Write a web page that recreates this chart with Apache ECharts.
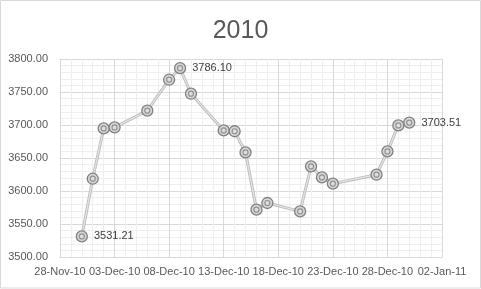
<!DOCTYPE html>
<html>
<head>
<meta charset="utf-8">
<script src="https://cdn.jsdelivr.net/npm/echarts@6/dist/echarts.min.js"></script>
<style>
html,body{margin:0;padding:0;background:#fff;}
#c{width:481px;height:289px;}
</style>
</head>
<body>
<div id="c"></div>
<script>
var title = '2010';
var dates = ['2010-11-30','2010-12-01','2010-12-02','2010-12-03','2010-12-06','2010-12-08','2010-12-09','2010-12-10','2010-12-13','2010-12-14','2010-12-15','2010-12-16','2010-12-17','2010-12-20','2010-12-21','2010-12-22','2010-12-23','2010-12-27','2010-12-28','2010-12-29','2010-12-30'];
var values = [3531.21, 3618.6, 3694.8, 3696.4, 3721.7, 3768.6, 3786.10, 3747.4, 3691.8, 3690.5, 3658.5, 3571.7, 3581.8, 3569.1, 3637.3, 3620.6, 3611.1, 3624.7, 3660.0, 3699.4, 3703.51];
var labelledIdx = [0, 6, 20];
var xMinDate = '2010-11-28';
var xMaxDate = '2011-01-02';
var xStepDays = 5;
var yMin = 3500, yMax = 3800, yStep = 50;

var MONTHS = ['Jan','Feb','Mar','Apr','May','Jun','Jul','Aug','Sep','Oct','Nov','Dec'];
function serial(s){
  var p = s.split('-');
  return Math.round((Date.UTC(+p[0], +p[1]-1, +p[2]) - Date.UTC(1899,11,30)) / 86400000);
}
function fmtSerial(v){
  var d = new Date(Date.UTC(1899,11,30) + v*86400000);
  var dd = ('0'+d.getUTCDate()).slice(-2);
  var yy = ('0'+(d.getUTCFullYear()%100)).slice(-2);
  return dd + '-' + MONTHS[d.getUTCMonth()] + '-' + yy;
}
var pts = dates.map(function(s,i){
  var o = {value:[serial(s), values[i]]};
  if (labelledIdx.indexOf(i) >= 0) {
    o.label = {show:true};
  }
  return o;
});
var plain = dates.map(function(s,i){ return [serial(s), values[i]]; });

var chart = echarts.init(document.getElementById('c'), null, {renderer:'canvas'});
chart.setOption({
  animation:false,
  backgroundColor:'#ffffff',
  title:{text:title, left:'center', top:14,
    textStyle:{fontFamily:'Liberation Sans', fontSize:25, fontWeight:'normal', color:'#595959'}},
  graphic:[{type:'rect', shape:{x:0.5,y:0.5,width:480,height:287.5}, style:{fill:'none', stroke:'#d9d9d9', lineWidth:1}, silent:true, z:-1}],
  grid:{left:60, right:39, top:59, bottom:32},
  xAxis:{type:'value', min:serial(xMinDate), max:serial(xMaxDate), interval:xStepDays,
    axisLine:{show:true, lineStyle:{color:'#d9d9d9'}},
    axisTick:{show:false},
    axisLabel:{formatter:fmtSerial, color:'#595959', fontFamily:'Liberation Sans', fontSize:11, margin:9, showMaxLabel:true, showMinLabel:true},
    splitLine:{show:true, lineStyle:{color:'#d9d9d9', width:1}},
    minorTick:{show:false, splitNumber:5},
    minorSplitLine:{show:true, lineStyle:{color:'#efefef', width:1}}
  },
  yAxis:{type:'value', min:yMin, max:yMax, interval:yStep,
    axisLine:{show:true, lineStyle:{color:'#d9d9d9'}},
    axisTick:{show:false},
    axisLabel:{formatter:function(v){return v.toFixed(2);}, color:'#595959', fontFamily:'Liberation Sans', fontSize:11, margin:12},
    splitLine:{show:true, lineStyle:{color:'#d9d9d9', width:1}},
    minorTick:{show:false, splitNumber:5},
    minorSplitLine:{show:true, lineStyle:{color:'#efefef', width:1}}
  },
  series:[
    {type:'line', data:plain, symbol:'none', silent:true,
      lineStyle:{color:'#bdbdbd', width:3}, z:1},
    {type:'line', data:pts, symbol:'circle', symbolSize:11, showAllSymbol:true,
      lineStyle:{color:'#e4e4e4', width:1.2},
      itemStyle:{color:'#d6d6d6', borderColor:'#808080', borderWidth:1.3},
      label:{show:false, position:'right', distance:6, color:'#404040', fontFamily:'Liberation Sans', fontSize:11,
        formatter:function(p){return p.value[1].toFixed(2);}},
      z:2},
    {type:'scatter', data:plain, symbol:'circle', symbolSize:5,
      itemStyle:{color:'#e0e0e0', borderColor:'#808080', borderWidth:1.2}, z:3, silent:true}
  ]
});
</script>
</body>
</html>
